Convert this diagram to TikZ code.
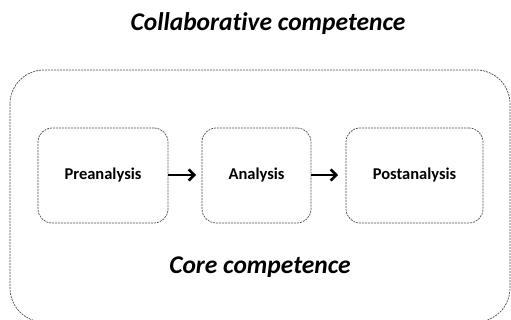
\documentclass[tikz,border=0pt]{standalone}
\usepackage{fontspec}
\setmainfont[Ligatures={NoCommon}]{Carlito}
\usetikzlibrary{arrows.meta}
\begin{document}
\begin{tikzpicture}[x=1pt,y=-1pt,
  dbox/.style={draw=black!70, dash pattern=on 2pt off 1pt, rounded corners=14pt, line width=0.7pt},
  stepbox/.style={dbox, minimum width=#1, minimum height=95pt, font=\bfseries\fontsize{16.5}{19}\selectfont, inner sep=0pt},
  conn/.style={-{Straight Barb[length=5.5pt,width=11pt]}, line width=2.6pt},
  title/.style={font=\bfseries\itshape\fontsize{25.5}{30}\selectfont}]
\useasboundingbox (0,0) rectangle (511,320);
\draw[dbox, rounded corners=34pt] (10,70) rectangle (510,322);
\node[title] (collab) at (268,24) {Collaborative competence};
\node[title] (core) at (260,267) {Core competence};
\node[stepbox=130pt] (pre) at (103,175.5) {Preanalysis};
\node[stepbox=109pt] (ana) at (256.5,175.5) {Analysis};
\node[stepbox=137pt] (post) at (414.5,175.5) {Postanalysis};
\coordinate (a1s) at (168,175);
\coordinate (a1e) at (196,175);
\coordinate (a2s) at (311,175);
\coordinate (a2e) at (338,175);
\draw[conn] (a1s) -- (a1e);
\draw[conn] (a2s) -- (a2e);
\end{tikzpicture}
\end{document}
